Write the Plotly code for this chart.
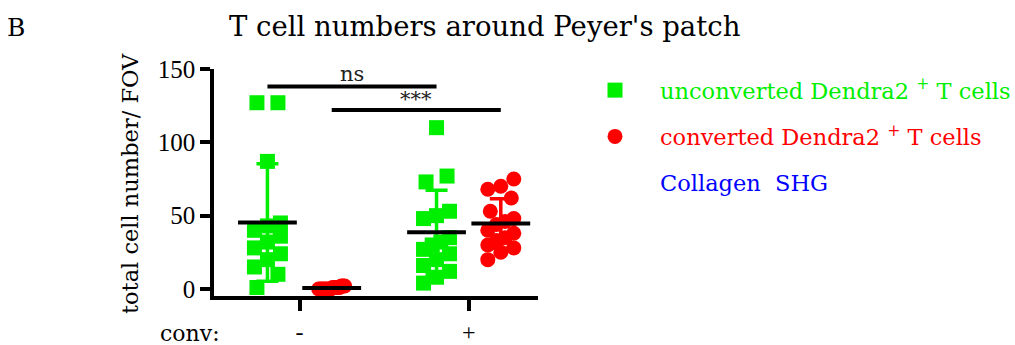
import numpy as np
import plotly.graph_objects as go

# ---- data: cells per field of view ----
conv_labels = ["-", "+"]
unconverted_minus = [127, 127, 87, 45, 43, 40, 36, 32, 28, 24, 20, 15, 10, 1]
unconverted_plus = [110, 77, 73, 53, 50, 48, 35, 32, 30, 27, 24, 20, 16, 12, 8, 4]
converted_minus = [2, 2, 1, 1, 1, 1, 0, 0, 0, 0, 0, 0, 0, 1, 2, 0]
converted_plus = [75, 70, 68, 62, 53, 48, 46, 44, 40, 38, 35, 33, 30, 28, 25, 20]

# significance brackets: (label, bracket height, label height)
sig_ns = ("ns", 138, 146.5)
sig_star = ("***", 122, 129.5)

GREEN = "#00ee00"
RED = "#ff0000"
BLUE = "#0000ff"
SERIF = "DejaVu Serif"
TICKFONT = "Liberation Serif"

# layout geometry (pixels)
W, H = 1015, 345
ML, MR, MT, MB = 214, 477, 69, 49
X_RANGE = [-0.506, 1.41]
Y_RANGE = [-4.8, 150]
plot_w = W - ML - MR
plot_h = H - MT - MB
XPX = plot_w / (X_RANGE[1] - X_RANGE[0])
YPX = plot_h / (Y_RANGE[1] - Y_RANGE[0])

OFFSET = 0.19          # group offset from the tick
MARKER = 15            # marker size, px


def swarm(values, size, half_width=13):
    """Row-based scatter: points of similar value are spread side by side,
    centred on the group, squeezed to stay within +/- half_width px."""
    order = list(np.argsort(values))
    offs = [0.0] * len(values)
    rows, row = [], []
    for i in order:
        if row and (values[i] - values[row[0]]) * YPX > size * 0.9:
            rows.append(row)
            row = []
        row.append(i)
    if row:
        rows.append(row)
    for row in rows:
        n = len(row)
        if n == 1:
            continue
        spacing = min(size * 1.4, 2 * half_width / (n - 1))
        for k, i in enumerate(row):
            offs[i] = (k - (n - 1) / 2) * spacing / XPX
    return offs


groups = [
    (unconverted_minus, 0 - OFFSET, GREEN, "square", True),
    (converted_minus, 0 + OFFSET, RED, "circle", True),
    (unconverted_plus, 1 - OFFSET, GREEN, "square", False),
    (converted_plus, 1 + OFFSET, RED, "circle", False),
]

names = {
    GREEN: "<span style='color:%s'>unconverted Dendra2 <sup>+</sup> T cells</span>" % GREEN,
    RED: "<span style='color:%s'>converted Dendra2 <sup>+</sup> T cells</span>" % RED,
}
lgroup = {GREEN: "g1", RED: "g2"}

fig = go.Figure()

# SD error bars (drawn underneath the points)
for vals, cx, col, sym, show in groups:
    m = float(np.mean(vals))
    sd = float(np.std(vals, ddof=1))
    fig.add_trace(go.Scatter(
        x=[cx], y=[m], mode="markers",
        marker=dict(size=1, opacity=0),
        error_y=dict(type="data", array=[sd], arrayminus=[sd],
                     color=col, thickness=3.5, width=11),
        showlegend=False, hoverinfo="skip"))

# individual points
for vals, cx, col, sym, show in groups:
    offs = swarm(vals, MARKER)
    fig.add_trace(go.Scatter(
        x=[cx + o for o in offs], y=vals, mode="markers",
        marker=dict(symbol=sym, size=MARKER, color=col, line=dict(width=0)),
        name=names[col], legendgroup=lgroup[col], showlegend=show,
        cliponaxis=False))

# group means
for vals, cx, col, sym, show in groups:
    fig.add_trace(go.Scatter(
        x=[cx], y=[float(np.mean(vals))], mode="markers",
        marker=dict(symbol="line-ew", size=42,
                    line=dict(width=4, color="black")),
        showlegend=False, hoverinfo="skip", cliponaxis=False))

# legend-only entry for the collagen channel
fig.add_trace(go.Scatter(
    x=[None], y=[None], mode="markers",
    marker=dict(size=1, color="rgba(0,0,0,0)"),
    name="<span style='color:%s'>Collagen  SHG</span>" % BLUE,
    legendgroup="g3", showlegend=True))

# significance brackets
brackets = [
    (sig_ns, 0 - OFFSET, 1 - OFFSET),
    (sig_star, 0 + OFFSET, 1 + OFFSET),
]
for (label, yb, yt), x0, x1 in brackets:
    fig.add_trace(go.Scatter(
        x=[x0, x1], y=[yb, yb], mode="lines",
        line=dict(color="black", width=4),
        showlegend=False, hoverinfo="skip", cliponaxis=False))
    fig.add_annotation(x=(x0 + x1) / 2, y=yt, text=label, showarrow=False,
                       font=dict(family=SERIF, size=21, color="#222"),
                       xanchor="center", yanchor="middle")

# panel letter, title, axis titles
fig.add_annotation(xref="paper", yref="paper", x=(16 - ML) / plot_w,
                   y=(H - MB - 28) / plot_h, text="B", showarrow=False,
                   font=dict(family=SERIF, size=25, color="black"),
                   xanchor="center", yanchor="middle")
fig.add_annotation(xref="paper", yref="paper", x=(484 - ML) / plot_w,
                   y=(H - MB - 26) / plot_h,
                   text="T cell numbers around Peyer's patch", showarrow=False,
                   font=dict(family=SERIF, size=27.5, color="black"),
                   xanchor="center", yanchor="middle")
fig.add_annotation(xref="paper", yref="paper", x=(130 - ML) / plot_w,
                   y=(H - MB - 184) / plot_h,
                   text="total cell number/ FOV", textangle=-90,
                   showarrow=False,
                   font=dict(family=SERIF, size=22.5, color="black"),
                   xanchor="center", yanchor="middle")
fig.add_annotation(xref="paper", yref="paper", x=(158 - ML) / plot_w,
                   y=(H - MB - 333) / plot_h, text="conv:", showarrow=False,
                   font=dict(family=SERIF, size=22, color="black"),
                   xanchor="left", yanchor="middle")

fig.update_xaxes(
    range=X_RANGE, tickvals=[0, 1], ticktext=conv_labels,
    showline=True, linecolor="black", linewidth=3.5,
    ticks="outside", ticklen=11, tickwidth=3.5, tickcolor="black",
    showgrid=False, zeroline=False,
    tickfont=dict(family=TICKFONT, size=24, color="black"))
fig.update_yaxes(
    range=Y_RANGE, tickvals=[0, 50, 100, 150],
    showline=True, linecolor="black", linewidth=3.5,
    ticks="outside", ticklen=10, tickwidth=3.5, tickcolor="black",
    showgrid=False, zeroline=False,
    tickfont=dict(family=TICKFONT, size=25, color="black"))

fig.update_layout(
    width=W, height=H,
    margin=dict(l=ML, r=MR, t=MT, b=MB, autoexpand=False),
    paper_bgcolor="white", plot_bgcolor="white",
    showlegend=True,
    legend=dict(x=(570 - ML) / plot_w, y=(H - MB - 69) / plot_h,
                xanchor="left", yanchor="top",
                traceorder="grouped", tracegroupgap=14,
                itemwidth=80, itemsizing="trace",
                font=dict(family=SERIF, size=22.5, color="black"),
                bgcolor="rgba(0,0,0,0)"),
)

fig.write_html("out.html")
